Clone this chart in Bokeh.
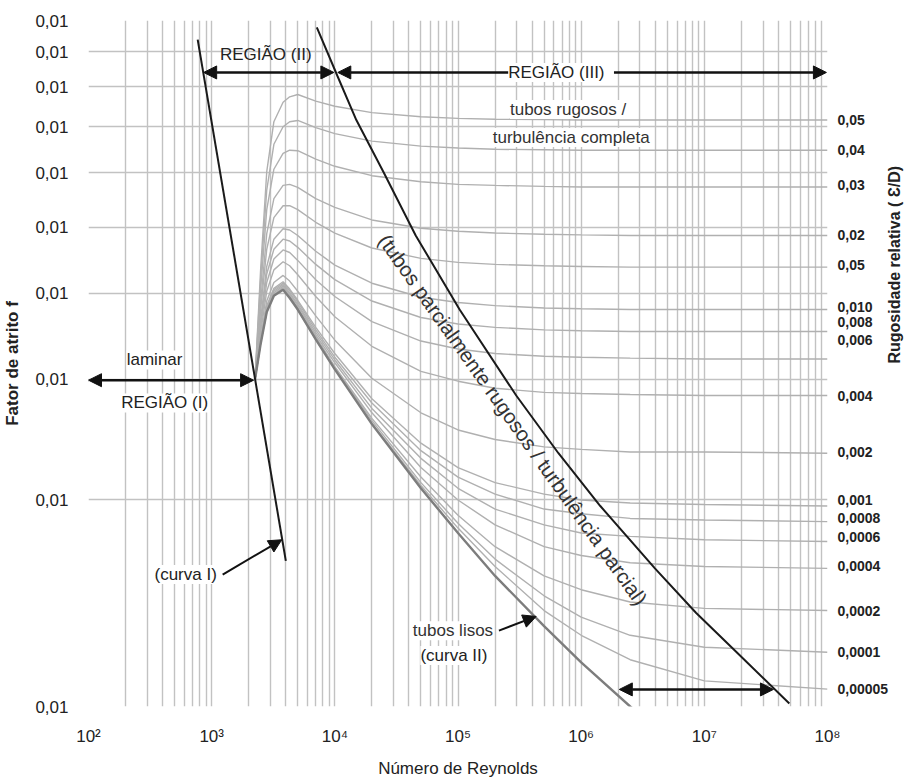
import math
from bokeh.plotting import figure
from bokeh.models import FixedTicker, LogAxis, Arrow, NormalHead, Label, Range1d
from bokeh.embed import file_html
from bokeh.resources import INLINE

SANS = "Liberation Sans"

# ---------------- data ----------------
re_points = [2250, 2500, 2800, 3200, 3800, 4300, 5000, 7000, 1e4, 2e4, 5e4, 1e5, 2e5,
             5e5, 1e6, 2.5e6, 1e7, 1e8]

f_005 = [0.0300, 0.0435, 0.0602, 0.0712, 0.0760, 0.0774, 0.0780, 0.0763, 0.0750, 0.0734,
         0.0724, 0.0720, 0.0718, 0.0717, 0.0716, 0.0716, 0.0716, 0.0716]
f_004 = [0.0300, 0.0421, 0.0566, 0.0660, 0.0700, 0.0712, 0.0715, 0.0698, 0.0684, 0.0667,
         0.0656, 0.0652, 0.0649, 0.0648, 0.0647, 0.0647, 0.0647, 0.0647]
f_003 = [0.0300, 0.0406, 0.0530, 0.0607, 0.0640, 0.0647, 0.0646, 0.0628, 0.0613, 0.0594,
         0.0582, 0.0577, 0.0575, 0.0573, 0.0572, 0.0572, 0.0572, 0.0572]
f_002 = [0.0300, 0.0389, 0.0489, 0.0550, 0.0575, 0.0577, 0.0571, 0.0550, 0.0534, 0.0512,
         0.0498, 0.0493, 0.0490, 0.0488, 0.0487, 0.0486, 0.0486, 0.0486]
f_0015 = [0.0300, 0.0379, 0.0464, 0.0516, 0.0537, 0.0537, 0.0530, 0.0508, 0.0490, 0.0466,
          0.0450, 0.0444, 0.0441, 0.0439, 0.0438, 0.0437, 0.0437, 0.0437]
f_001 = [0.0300, 0.0367, 0.0438, 0.0480, 0.0497, 0.0495, 0.0486, 0.0461, 0.0440, 0.0414,
         0.0395, 0.0388, 0.0384, 0.0381, 0.0380, 0.0379, 0.0379, 0.0379]
f_0008 = [0.0300, 0.0362, 0.0427, 0.0464, 0.0480, 0.0477, 0.0467, 0.0441, 0.0419, 0.0390,
          0.0369, 0.0361, 0.0357, 0.0354, 0.0353, 0.0352, 0.0352, 0.0352]
f_0006 = [0.0300, 0.0357, 0.0415, 0.0449, 0.0463, 0.0459, 0.0447, 0.0419, 0.0396, 0.0364,
          0.0341, 0.0332, 0.0327, 0.0324, 0.0323, 0.0322, 0.0321, 0.0321]
f_0004 = [0.0300, 0.0351, 0.0403, 0.0433, 0.0445, 0.0439, 0.0426, 0.0396, 0.0370, 0.0335,
          0.0308, 0.0298, 0.0291, 0.0287, 0.0286, 0.0285, 0.0284, 0.0284]
f_0002 = [0.0300, 0.0345, 0.0390, 0.0415, 0.0425, 0.0417, 0.0403, 0.0371, 0.0342, 0.0301,
          0.0268, 0.0253, 0.0245, 0.0239, 0.0237, 0.0235, 0.0235, 0.0234]
f_0001 = [0.0300, 0.0342, 0.0384, 0.0407, 0.0416, 0.0406, 0.0391, 0.0357, 0.0327, 0.0281,
          0.0242, 0.0223, 0.0212, 0.0204, 0.0200, 0.0198, 0.0197, 0.0196]
f_00008 = [0.0300, 0.0341, 0.0382, 0.0405, 0.0414, 0.0404, 0.0389, 0.0354, 0.0323, 0.0277,
           0.0236, 0.0216, 0.0204, 0.0194, 0.0191, 0.0188, 0.0187, 0.0186]
f_00006 = [0.0300, 0.0341, 0.0381, 0.0403, 0.0412, 0.0401, 0.0386, 0.0351, 0.0320, 0.0272,
           0.0230, 0.0208, 0.0194, 0.0184, 0.0179, 0.0177, 0.0175, 0.0174]
f_00004 = [0.0300, 0.0340, 0.0379, 0.0401, 0.0410, 0.0399, 0.0384, 0.0348, 0.0317, 0.0268,
           0.0223, 0.0200, 0.0184, 0.0171, 0.0166, 0.0162, 0.0160, 0.0159]
f_00002 = [0.0300, 0.0339, 0.0378, 0.0399, 0.0408, 0.0397, 0.0381, 0.0346, 0.0313, 0.0263,
           0.0216, 0.0190, 0.0171, 0.0155, 0.0148, 0.0142, 0.0139, 0.0138]
f_00001 = [0.0300, 0.0339, 0.0376, 0.0398, 0.0406, 0.0395, 0.0380, 0.0344, 0.0312, 0.0261,
           0.0212, 0.0185, 0.0164, 0.0145, 0.0135, 0.0127, 0.0122, 0.0120]
f_000005 = [0.0300, 0.0339, 0.0376, 0.0398, 0.0406, 0.0395, 0.0379, 0.0343, 0.0311, 0.0259,
            0.0210, 0.0182, 0.0160, 0.0138, 0.0127, 0.0117, 0.0109, 0.0106]
f_smooth = [0.0300, 0.0338, 0.0376, 0.0397, 0.0405, 0.0394, 0.0379, 0.0343, 0.0310, 0.0258,
            0.0208, 0.0179, 0.0155, 0.0131, 0.0116, 0.0100, 0.0081, 0.0060]

# curve I (laminar) and boundary between partial / complete turbulence
laminar_re = [770, 4000]
laminar_f = [0.0938, 0.0163]
boundary_re = [7140, 10500, 14950, 25000, 45350, 1.03e5, 2.97e5, 6.54e5, 1.43e6, 3.97e6,
               8.55e6, 1.83e7, 4.9e7]
boundary_f = [0.0977, 0.0830, 0.0716, 0.0600, 0.0486, 0.0379, 0.0284, 0.0234, 0.0196,
              0.0159, 0.0137, 0.0120, 0.0101]

# axis ticks and tick labels
x_ticks = [1e2, 1e3, 1e4, 1e5, 1e6, 1e7, 1e8]
x_tick_labels = ["10²", "10³", "10⁴", "10⁵", "10⁶", "10⁷", "10⁸"]
x_grid = [m * 10.0 ** e for e in range(2, 8) for m in range(1, 10)] + [1e8]
f_ticks = [0.1, 0.09, 0.08, 0.07, 0.06, 0.05, 0.04, 0.03, 0.02, 0.01]
f_tick_labels = ["0,01"] * 10
rough_tick_f = [0.0717, 0.0648, 0.0575, 0.0486, 0.0440, 0.0382, 0.0363, 0.0342, 0.0284,
                0.0235, 0.0200, 0.0188, 0.01764, 0.01605, 0.0138, 0.0120, 0.01059]
rough_tick_labels = ["0,05", "0,04", "0,03", "0,02", "0,05", "0,010", "0,008", "0,006",
                     "0,004", "0,002", "0,001", "0,0008", "0,0006", "0,0004", "0,0002",
                     "0,0001", "0,00005"]

# annotation arrows (Re, f)
region2_re = [861, 9820]
region3_re = [10570, 9.8e7]
region_arrow_f = 0.0840
laminar_arrow_re = [100, 2190]
laminar_arrow_f = 0.0299
bottom_arrow_re = [2.04e6, 3.64e7]
bottom_arrow_f = 0.01059
curva1_arrow = [(1228, 0.01557), (3710, 0.0175)]
lisos_arrow = [(2.15e5, 0.0129), (4.31e5, 0.01353)]

# ---------------- figure ----------------
p = figure(x_axis_type="log", y_axis_type="log",
           x_range=Range1d(1e2, 1e8), y_range=Range1d(0.01, 0.1),
           frame_width=739, frame_height=686,
           min_border_left=80, min_border_top=20, min_border_right=78, min_border_bottom=58,
           output_backend="svg", toolbar_location=None)
p.outline_line_color = None
p.background_fill_color = "white"

p.xgrid.ticker = FixedTicker(ticks=x_grid)
p.ygrid.ticker = FixedTicker(ticks=f_ticks)
p.grid.grid_line_color = "#c2c2c2"
p.grid.grid_line_width = 1.4


def plain_axis(ax):
    ax.axis_line_color = None
    ax.major_tick_line_color = None
    ax.minor_tick_line_color = None
    ax.major_tick_out = 0
    ax.major_tick_in = 0
    ax.minor_tick_out = 0
    ax.minor_tick_in = 0


# x axis
xa = p.xaxis[0]
plain_axis(xa)
xa.ticker = FixedTicker(ticks=x_ticks)
xa.major_label_overrides = {t: l for t, l in zip(x_ticks, x_tick_labels)}
xa.major_label_text_font = SANS
xa.major_label_text_font_size = "17px"
xa.major_label_text_color = "#222222"
xa.major_label_standoff = 20
xa.axis_label = "Número de Reynolds"
xa.axis_label_text_font = SANS
xa.axis_label_text_font_style = "normal"
xa.axis_label_text_font_size = "17px"
xa.axis_label_text_color = "#222222"
xa.axis_label_standoff = 10

# left y axis
ya = p.yaxis[0]
plain_axis(ya)
ya.ticker = FixedTicker(ticks=f_ticks)
ya.major_label_overrides = {t: l for t, l in zip(f_ticks, f_tick_labels)}
ya.major_label_text_font = SANS
ya.major_label_text_font_size = "17px"
ya.major_label_text_color = "#222222"
ya.major_label_standoff = 20
ya.axis_label = "Fator de atrito f"
ya.axis_label_text_font = SANS
ya.axis_label_text_font_style = "bold"
ya.axis_label_text_font_size = "17px"
ya.axis_label_text_color = "#222222"
ya.axis_label_standoff = 10

# right axis: relative roughness
ra = LogAxis(ticker=FixedTicker(ticks=rough_tick_f),
             major_label_overrides={t: l for t, l in zip(rough_tick_f, rough_tick_labels)})
plain_axis(ra)
ra.major_label_text_font = SANS
ra.major_label_text_font_style = "bold"
ra.major_label_text_font_size = "14px"
ra.major_label_text_color = "#222222"
ra.major_label_standoff = 10
ra.axis_label = "Rugosidade relativa ( Ɛ/D)"
ra.axis_label_text_font = SANS
ra.axis_label_text_font_style = "bold"
ra.axis_label_text_font_size = "16px"
ra.axis_label_text_color = "#222222"
ra.axis_label_standoff = 3
ra.axis_label_orientation = math.pi / 2
p.add_layout(ra, "right")

# ---------------- curves ----------------
rough_curves = [f_005, f_004, f_003, f_002, f_0015, f_001, f_0008, f_0006, f_0004,
                f_0002, f_0001, f_00008, f_00006, f_00004, f_00002, f_00001, f_000005]
for fv in rough_curves:
    p.line(re_points, fv, line_color="#b0b0b0", line_width=1.4)
p.line(re_points, f_smooth, line_color="#7d7d7d", line_width=2.4)

p.line(laminar_re, laminar_f, line_color="#1a1a1a", line_width=2)
p.line(boundary_re, boundary_f, line_color="#1a1a1a", line_width=2)

# ---------------- arrows ----------------
def head():
    return NormalHead(size=13, fill_color="#111111", line_color="#111111")

def add_arrow(x0, y0, x1, y1, both=True, lw=2.5):
    p.add_layout(Arrow(x_start=x0, y_start=y0, x_end=x1, y_end=y1,
                       start=head() if both else None, end=head(),
                       line_color="#111111", line_width=lw))

add_arrow(region2_re[0], region_arrow_f, region2_re[1], region_arrow_f)
add_arrow(region3_re[0], region_arrow_f, region3_re[1], region_arrow_f)
add_arrow(laminar_arrow_re[0], laminar_arrow_f, laminar_arrow_re[1], laminar_arrow_f)
add_arrow(bottom_arrow_re[0], bottom_arrow_f, bottom_arrow_re[1], bottom_arrow_f)
add_arrow(curva1_arrow[0][0], curva1_arrow[0][1], curva1_arrow[1][0], curva1_arrow[1][1],
          both=False, lw=2)
add_arrow(lisos_arrow[0][0], lisos_arrow[0][1], lisos_arrow[1][0], lisos_arrow[1][1],
          both=False, lw=2)

# ---------------- labels ----------------
def add_label(x, y, text, size="17px", style="normal", angle=0.0, bg="white",
              color="#222222"):
    p.add_layout(Label(x=x, y=y, text=text, text_font=SANS, text_font_size=size,
                       text_font_style=style, text_color=color, text_align="center",
                       text_baseline="middle", angle=angle,
                       background_fill_color=bg))

add_label(2750, 0.0892, "REGIÃO (II)", bg=None)
add_label(6.87e5, 0.0840, " REGIÃO (III) ")
add_label(7.83e5, 0.0742, "tubos rugosos /", color="#333333")
add_label(8.3e5, 0.0675, "turbulência completa", color="#333333")
add_label(344, 0.0320, "laminar")
add_label(415, 0.0277, "REGIÃO (I)")
add_label(615, 0.01557, "(curva I)")
add_label(91000, 0.0129, "tubos lisos", color="#333333")
add_label(92700, 0.01187, "(curva II)")
add_label(2.8e5, 0.0262, "(tubos parcialmente rugosos / turbulência parcial)",
          size="20.5px", angle=-0.955, bg=None, color="#333333")

open("out.html", "w").write(file_html(p, INLINE))
